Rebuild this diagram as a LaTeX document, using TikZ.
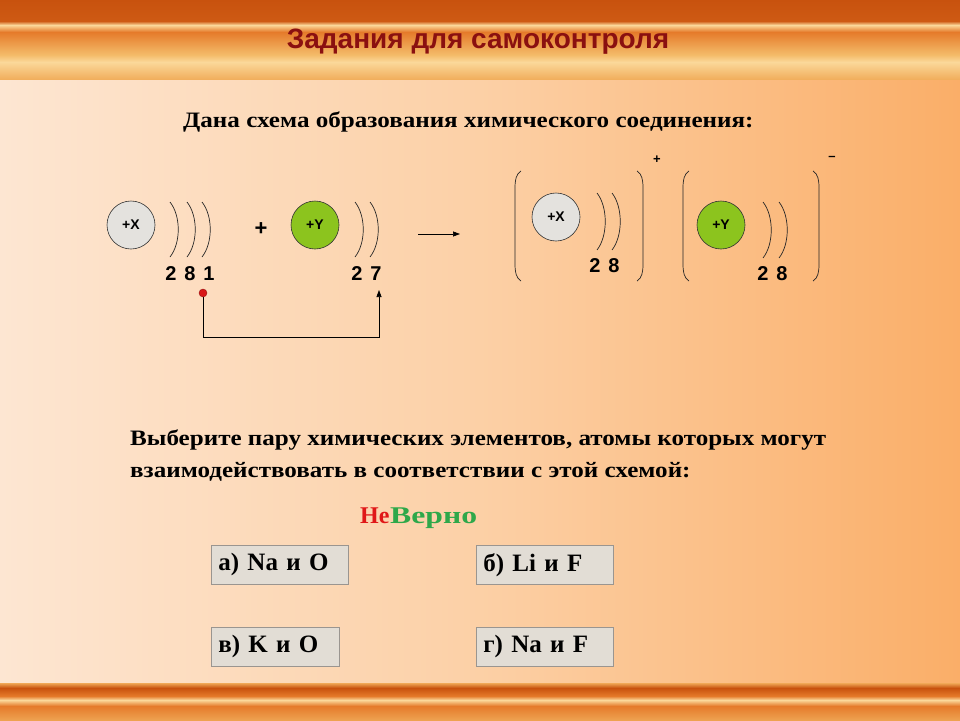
\documentclass[tikz,border=0pt]{standalone}
\usepackage{fontspec}
\setmainfont{Liberation Serif}
\newfontfamily\arial{Liberation Sans}
\usetikzlibrary{arrows.meta}
\definecolor{bgL}{HTML}{FDE6D2}
\definecolor{bgM}{HTML}{FCD0A6}
\definecolor{bgR}{HTML}{FAAE68}
\definecolor{bandD}{HTML}{C8520E}
\definecolor{bandO}{HTML}{E57A2A}
\definecolor{bandY}{HTML}{F4BC6A}
\definecolor{bandP}{HTML}{FBD89A}
\definecolor{titleR}{HTML}{8A1010}
\definecolor{xgray}{HTML}{E4E2DE}
\definecolor{ygreen}{HTML}{8CC41E}
\definecolor{boxfill}{HTML}{E2DDD5}
\definecolor{boxedge}{HTML}{9A9590}
\definecolor{wrongR}{HTML}{E01818}
\definecolor{rightG}{HTML}{2EA84A}
\definecolor{dotR}{HTML}{D81818}
\newcommand{\widetext}[1]{\scalebox{1.14}[1]{#1}}
\tikzset{
  atom/.style={circle,draw=black!80,line width=0.6pt,minimum size=48pt,inner sep=0pt,font=\arial\bfseries\fontsize{14}{14}\selectfont},
  shellarc/.style={draw=black!85,line width=0.7pt},
  brk/.style={draw=black!85,line width=0.7pt},
  num/.style={font=\arial\bfseries\fontsize{20}{20}\selectfont,inner sep=0pt,anchor=base},
  answer/.style={draw=boxedge,fill=boxfill,line width=0.6pt,anchor=north west,minimum height=39pt,inner xsep=7pt,inner ysep=0pt,align=left,font=\bfseries\fontsize{25}{25}\selectfont},
  body/.style={font=\bfseries\fontsize{22}{24}\selectfont,inner sep=0pt,anchor=base west},
  conn/.style={draw=black,line width=0.7pt},
}
\begin{document}
\begin{tikzpicture}[x=1pt,y=-1pt]
\useasboundingbox (0,0) rectangle (960,720);
% background
\shade[left color=bgL,right color=bgM] (0,0) rectangle (480,720);
\shade[left color=bgM,right color=bgR] (480,0) rectangle (960,720);
% top band
\shade[top color=bandD,bottom color=bandD!80!bandO] (0,0) rectangle (960,21);
\shade[top color=bandD!80!bandO,bottom color=bandP] (0,21) rectangle (960,25);
\shade[top color=bandP,bottom color=bandO] (0,25) rectangle (960,32);
\shade[top color=bandO,bottom color=bandY] (0,32) rectangle (960,55);
\shade[top color=bandY,bottom color=bandP] (0,55) rectangle (960,62);
\shade[top color=bandP,bottom color=bandY!80!bandO] (0,62) rectangle (960,79);
% bottom band
\shade[top color=bandY!70!bandO,bottom color=bandD] (0,683) rectangle (960,688);
\shade[top color=bandD,bottom color=bandO] (0,688) rectangle (960,696);
\shade[top color=bandO,bottom color=bandP] (0,696) rectangle (960,700);
\shade[top color=bandP,bottom color=bandO] (0,700) rectangle (960,706);
\shade[top color=bandO,bottom color=bandY!60!bandO] (0,706) rectangle (960,720);
% title
\node[font=\arial\bfseries\fontsize{28}{28}\selectfont,text=titleR,inner sep=0pt,anchor=base] (title) at (478,48) {Задания для самоконтроля};
% first text
\node[body] (given) at (183,127) {\widetext{Дана схема образования химического соединения:}};
% left scheme
\node[atom,fill=xgray] (x1) at (131,225) {+X};
\foreach \xx in {170,187,202}{
  \draw[shellarc] (\xx,202) .. controls (\xx+11,216) and (\xx+11,243) .. (\xx,257);
}
\node[num] (n2a) at (171,280) {2};
\node[num] (n8a) at (190,280) {8};
\node[num] (n1a) at (209,280) {1};
\node[font=\arial\bfseries\fontsize{22}{22}\selectfont,inner sep=0pt] (plus) at (261,229) {+};
\node[atom,fill=ygreen] (y1) at (315,225) {+Y};
\foreach \xx in {355,370}{
  \draw[shellarc] (\xx,202) .. controls (\xx+11,216) and (\xx+11,243) .. (\xx,257);
}
\node[num] (n2b) at (357,280) {2};
\node[num] (n7b) at (376,280) {7};
\coordinate (arrS) at (418,234);
\coordinate (arrE) at (460,234);
\draw[conn,-{Triangle[length=7pt,width=5pt]}] (arrS) -- (arrE);
% electron transfer
\node[circle,fill=dotR,draw=dotR!70!black,line width=0.4pt,minimum size=8pt,inner sep=0pt] (dot) at (203,293) {};
\coordinate (low) at (203,337);
\coordinate (tip) at (379,290);
\draw[conn] (dot) -- (low);
\draw[conn,-{Triangle[length=7pt,width=5pt]}] (low) -| (tip);
% right: cation
\draw[brk] (521,171) .. controls (516,174) and (515,180) .. (515,188) -- (515,264) .. controls (515,272) and (516,278) .. (521,281);
\node[atom,fill=xgray] (x2) at (556,217) {+X};
\foreach \xx in {597,612}{
  \draw[shellarc] (\xx,193) .. controls (\xx+11,207) and (\xx+11,236) .. (\xx,250);
}
\node[num] (n2c) at (595,272) {2};
\node[num] (n8c) at (614,272) {8};
\draw[brk] (637,171) .. controls (642,174) and (643,180) .. (643,188) -- (643,264) .. controls (643,272) and (642,278) .. (637,281);
\node[font=\arial\bfseries\fontsize{13}{13}\selectfont,inner sep=0pt] (chp) at (657,160) {+};
% right: anion
\draw[brk] (689,171) .. controls (684,174) and (683,180) .. (683,188) -- (683,264) .. controls (683,272) and (684,278) .. (689,281);
\node[atom,fill=ygreen] (y2) at (721,225) {+Y};
\foreach \xx in {763,779}{
  \draw[shellarc] (\xx,202) .. controls (\xx+11,216) and (\xx+11,244) .. (\xx,258);
}
\node[num] (n2d) at (763,280) {2};
\node[num] (n8d) at (782,280) {8};
\draw[brk] (813,171) .. controls (818,174) and (819,180) .. (819,188) -- (819,264) .. controls (819,272) and (818,278) .. (813,281);
\node[font=\arial\bfseries\fontsize{13}{13}\selectfont,inner sep=0pt] (chm) at (832,158) {–};
% question
\node[body] (q1) at (130,445) {\widetext{Выберите пару химических элементов, атомы которых могут}};
\node[body] (q2) at (130,477) {\widetext{взаимодействовать в соответствии с этой схемой:}};
% feedback
\node[font=\bfseries\fontsize{24}{24}\selectfont,text=wrongR,inner sep=0pt,anchor=base west] (ne) at (360,523) {Не};
\node[font=\bfseries\fontsize{24}{24}\selectfont,text=rightG,inner sep=0pt,anchor=base west] (verno) at (390,523) {\scalebox{1.32}[1]{Верно}};
% answers
\node[answer,minimum width=137pt,text width=123pt] (ansA) at (211,545) {\raisebox{-2pt}{а) Na и O}};
\node[answer,minimum width=137pt,text width=123pt] (ansB) at (476,545) {\raisebox{-2pt}{б) Li и F}};
\node[answer,minimum width=128pt,text width=114pt] (ansC) at (211,627) {\raisebox{-2pt}{в) K и O}};
\node[answer,minimum width=137pt,text width=123pt] (ansD) at (476,627) {\raisebox{-2pt}{г) Na и F}};
\end{tikzpicture}
\end{document}
